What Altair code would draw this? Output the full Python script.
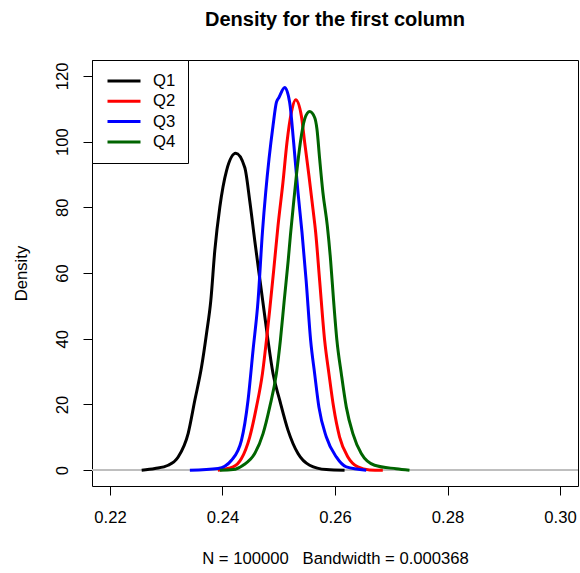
import altair as alt
import pandas as pd

# Density curves
q1_x = [0.22563, 0.22799, 0.23035, 0.23212, 0.23390, 0.23508, 0.23627, 0.23716, 0.23792,
        0.23863, 0.23952, 0.24071, 0.24236, 0.24396, 0.24484, 0.24573, 0.24667, 0.24738,
        0.24809, 0.24898, 0.25017, 0.25164, 0.25342, 0.25549, 0.25846, 0.26170]
q1_y = [0.0, 0.52, 1.52, 4.04, 11.24, 21.27, 31.38, 41.6, 51.6,
        66.8, 80.0, 91.1, 96.4, 92.1, 82.0, 69.9, 57.7, 48.6,
        39.5, 29.4, 21.3, 12.2, 5.07, 1.52, 0.2, 0.0]

q2_x = [0.23917, 0.24188, 0.24337, 0.24484, 0.24603, 0.24710, 0.24781, 0.24838, 0.24910,
        0.24987, 0.25075, 0.25146, 0.25225, 0.25301, 0.25402, 0.25461, 0.25537, 0.25608,
        0.25656, 0.25727, 0.25816, 0.25892, 0.25975, 0.26082, 0.26229, 0.26406, 0.26614, 0.26850]
q2_y = [0.0, 1.0, 3.55, 10.1, 19.2, 29.4, 39.5, 48.6, 60.8,
        74.4, 87.6, 99.7, 108.9, 112.7, 107.8, 99.7, 89.6, 79.5,
        72.4, 57.7, 39.5, 29.4, 19.2, 10.1, 4.04, 1.0, 0.1, 0.0]

q3_x = [0.23420, 0.23922, 0.24160, 0.24337, 0.24454, 0.24543, 0.24632, 0.24710, 0.24768,
        0.24827, 0.24898, 0.24958, 0.25004, 0.25106, 0.25194, 0.25265, 0.25342, 0.25413,
        0.25487, 0.25567, 0.25638, 0.25714, 0.25846, 0.26023, 0.26201, 0.26555]
q3_y = [0.0, 0.52, 3.04, 9.11, 21.3, 36.5, 51.6, 72.4, 84.5,
        94.7, 104.8, 111.9, 113.4, 116.4, 111.9, 99.7, 84.5, 72.4,
        57.7, 39.5, 29.4, 19.2, 10.1, 4.04, 1.0, 0.0]

q4_x = [0.23952, 0.24188, 0.24366, 0.24573, 0.24721, 0.24839, 0.24958, 0.25029, 0.25097,
        0.25168, 0.25207, 0.25242, 0.25313, 0.25384, 0.25460, 0.25549, 0.25638, 0.25679,
        0.25727, 0.25785, 0.25863, 0.25922, 0.25975, 0.26034, 0.26112, 0.26201, 0.26318,
        0.26467, 0.26703, 0.27088, 0.27324]
q4_y = [0.0, 0.2, 1.52, 5.07, 11.15, 19.2, 29.4, 39.5, 51.6,
        63.8, 71.4, 77.5, 89.6, 99.7, 106.8, 109.1, 107.3, 103.8,
        94.7, 84.5, 74.4, 63.8, 51.6, 39.5, 29.4, 19.2, 11.15,
        5.07, 1.52, 0.45, 0.0]

series_names = ["Q1", "Q2", "Q3", "Q4"]
series_colors = ["#000000", "#FF0000", "#0000FF", "#006400"]
x_ticks = [0.22, 0.24, 0.26, 0.28, 0.30]
y_ticks = [0, 20, 40, 60, 80, 100, 120]

rows = []
for name, xs, ys in zip(series_names, [q1_x, q2_x, q3_x, q4_x], [q1_y, q2_y, q3_y, q4_y]):
    for i, (xv, yv) in enumerate(zip(xs, ys)):
        rows.append({"series": name, "x": xv, "y": yv, "order": i})
df = pd.DataFrame(rows)

FONT = "Liberation Sans"
FS = 16.67
NB = "\u00a0"

x_scale = alt.Scale(domain=[0.2168, 0.3032], nice=False, zero=False)
y_scale = alt.Scale(domain=[-4.8, 124.8], nice=False, zero=False)

x_enc = alt.X(
    "x:Q", scale=x_scale,
    axis=alt.Axis(
        values=x_ticks, format=".2f", grid=False, domain=False,
        tickSize=9, tickColor="black", tickWidth=1,
        labelFont=FONT, labelFontSize=FS, labelColor="black", labelPadding=14,
        title="N = 100000" + NB * 3 + "Bandwidth = 0.000368",
        titleFont=FONT, titleFontSize=FS, titleFontWeight="normal", titleColor="black",
        titleX=243, titleY=72, titleBaseline="middle", titleAlign="center",
    ),
)
y_enc = alt.Y(
    "y:Q", scale=y_scale,
    axis=alt.Axis(
        values=y_ticks, grid=False, domain=False,
        tickSize=9, tickColor="black", tickWidth=1,
        labelFont=FONT, labelFontSize=FS, labelColor="black",
        labelAngle=270, labelAlign="center", labelBaseline="bottom", labelPadding=12,
        title="Density", titleFont=FONT, titleFontSize=FS, titleFontWeight="normal",
        titleColor="black", titleAngle=270, titleX=-71, titleY=213,
        titleAlign="center", titleBaseline="middle",
    ),
)

zero_line = alt.Chart(df).mark_rule(color="#BEBEBE", strokeWidth=1).encode(
    y=alt.datum(0, scale=y_scale)
)

lines = alt.Chart(df).mark_line(strokeWidth=3, interpolate="monotone").encode(
    x=x_enc,
    y=y_enc,
    order="order:Q",
    color=alt.Color(
        "series:N",
        scale=alt.Scale(domain=series_names, range=series_colors),
        legend=alt.Legend(
            orient="none", legendX=0, legendY=0, title=None,
            strokeColor="black", fillColor="white", padding=12, cornerRadius=0,
            symbolType="stroke", symbolStrokeWidth=3, symbolSize=1089, symbolOffset=2,
            clipHeight=18, rowPadding=2.3,
            labelFont=FONT, labelFontSize=FS, labelColor="black",
            labelOffset=11,
        ),
    ),
)

chart = alt.layer(zero_line, lines).properties(
    width=486, height=426,
    title=alt.TitleParams(
        "Density for the first column", anchor="middle", font=FONT,
        fontSize=20, fontWeight="bold", color="black", offset=30,
    ),
    autosize=alt.AutoSizeParams(type="none"),
    padding={"left": 92, "top": 60, "right": 2, "bottom": 87},
    background="white",
).configure_view(stroke="black", strokeWidth=1)

chart.save("out.html", embed_options={"renderer": "svg", "actions": False})
